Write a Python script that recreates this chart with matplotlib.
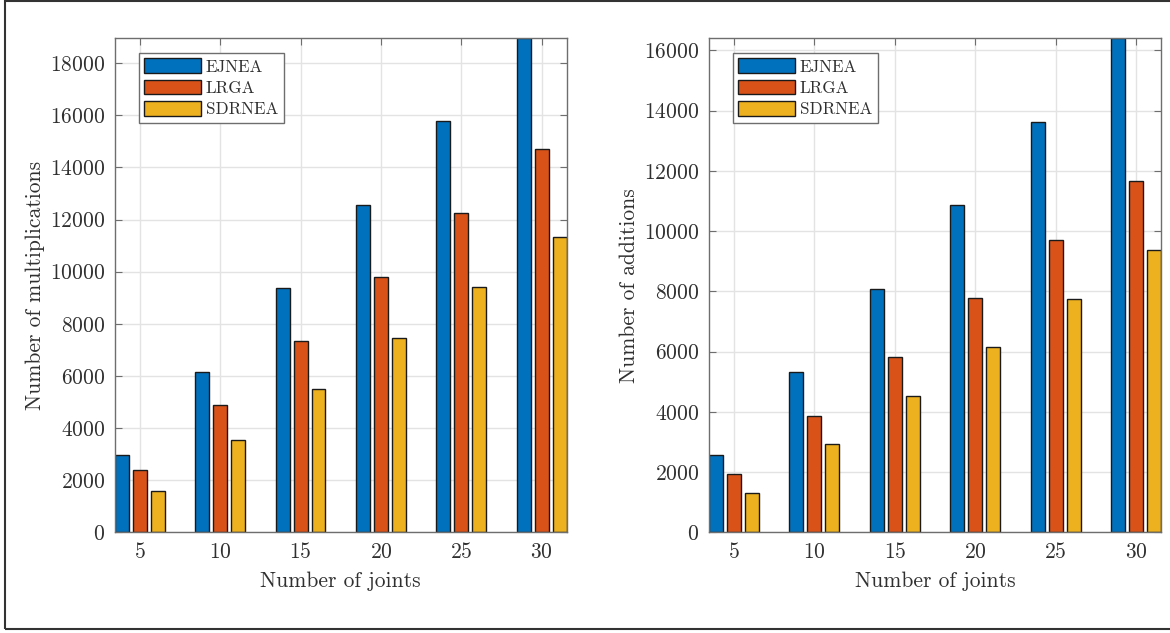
import numpy as np
import matplotlib
matplotlib.use('Agg')
import matplotlib.pyplot as plt
from matplotlib.patches import Rectangle

# operation counts per method and number of joints
joints = np.array([5, 10, 15, 20, 25, 30])
methods = ['EJNEA', 'LRGA', 'SDRNEA']
mult_ejnea = [2970, 6170, 9360, 12560, 15760, 18960]
mult_lrga = [2410, 4870, 7340, 9780, 12240, 14700]
mult_sdrnea = [1600, 3550, 5510, 7440, 9400, 11330]
add_ejnea = [2570, 5330, 8090, 10860, 13630, 16410]
add_lrga = [1930, 3880, 5830, 7775, 9720, 11680]
add_sdrnea = [1300, 2920, 4540, 6150, 7760, 9380]

colors = ['#0072BD', '#D95319', '#EDB120']
txt = '#303030'

plt.rcParams['font.family'] = 'serif'
plt.rcParams['font.serif'] = ['cmr10']
plt.rcParams['mathtext.fontset'] = 'cm'
plt.rcParams['axes.formatter.use_mathtext'] = True

fig = plt.figure(figsize=(11.7, 6.33), dpi=100)


def grouped(ax, series, ylabel):
    off = 1.115
    w = 0.87
    for i, (vals, c, name) in enumerate(zip(series, colors, methods)):
        ax.bar(joints + (i - 1) * off, vals, width=w, color=c,
               edgecolor='#1a1a1a', linewidth=1.0, label=name, zorder=3)
    ax.set_xlim(joints.min() - off - w / 2, joints.max() + off + w / 2)
    ax.set_ylim(0, max(series[0]))
    ax.set_xticks(joints)
    ax.set_yticks(np.arange(0, max(series[0]) + 1, 2000))
    ax.grid(True, color='#e3e3e3', linewidth=1.0, zorder=0)
    ax.set_axisbelow(True)
    ax.tick_params(direction='in', length=5, width=0.8, colors='#6e6e6e',
                   labelcolor=txt, labelsize=15.5, top=True, right=True,
                   pad=7)
    for s in ax.spines.values():
        s.set_color('#6e6e6e')
        s.set_linewidth(1.0)
        s.set_zorder(4)
    ax.set_xlabel('Number of joints', fontsize=15.5, color=txt, labelpad=7)
    ax.set_ylabel(ylabel, fontsize=15.5, color=txt, labelpad=4)
    leg = ax.legend(loc='upper left', bbox_to_anchor=(0.053, 0.970),
                    borderaxespad=0, fontsize=12.3, fancybox=False,
                    framealpha=1, edgecolor='#6e6e6e', handlelength=3.3,
                    handleheight=0.95, handletextpad=0.3, labelspacing=0.3,
                    borderpad=0.32)
    leg.get_frame().set_linewidth(1.0)
    for t in leg.get_texts():
        t.set_color(txt)


ax1 = fig.add_axes([0.0983, 0.1588, 0.3859, 0.7812])
grouped(ax1, [mult_ejnea, mult_lrga, mult_sdrnea], 'Number of multiplications')

ax2 = fig.add_axes([0.6060, 0.1588, 0.3863, 0.7812])
grouped(ax2, [add_ejnea, add_lrga, add_sdrnea], 'Number of additions')

# frame around the whole figure
fig.patches.append(Rectangle((5 / 1170, 4.5 / 633), 1.2, 1 - 5.5 / 633,
                             transform=fig.transFigure, fill=False,
                             edgecolor='#333333', linewidth=1.5,
                             clip_on=False))

fig.savefig('out.png', dpi=100)
